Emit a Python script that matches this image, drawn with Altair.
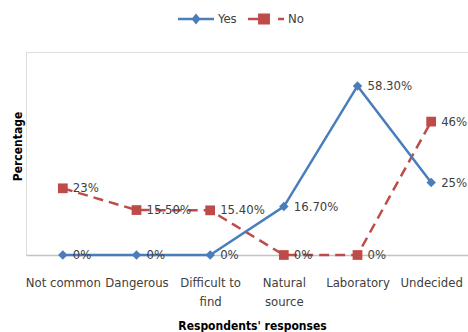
import altair as alt
import pandas as pd

# Survey responses (share of respondents, %)
categories = ["Not common", "Dangerous", "Difficult to\nfind", "Natural\nsource", "Laboratory", "Undecided"]
yes_values = [0, 0, 0, 16.7, 58.3, 25]
no_values = [23, 15.5, 15.4, 0, 0, 46]
series_names = ["Yes", "No"]
series_colors = ["#4a7ebb", "#be4b48"]

FONT = "DejaVu Sans Condensed, Liberation Sans Narrow, sans-serif"
TEXT_COLOR = "#404040"


def pct_label(v):
    return f"{v:g}%" if float(v).is_integer() else f"{v:.2f}%"


rows = []
for name, values in zip(series_names, [yes_values, no_values]):
    for i, (cat, v) in enumerate(zip(categories, values)):
        rows.append({"category": cat, "series": name, "value": v,
                     "label": pct_label(v), "idx": i})
df = pd.DataFrame(rows)

# Legend symbols: line segment with the series marker on it
legend_paths = [
    "M-1,-0.07H1V0.07H-1Z M0,-0.3L0.25,0L0,0.3L-0.25,0Z",
    "M-1,-0.07H-0.4V0.07H-1Z M-0.44,-0.3H0.22V0.3H-0.44Z M0.67,-0.07H1V0.07H0.67Z",
]

legend = alt.Legend(
    title=None, orient="none", direction="horizontal",
    legendX=152, legendY=-51, padding=0,
    symbolSize=1296, symbolStrokeWidth=0, symbolOpacity=1,
    labelFont=FONT, labelFontSize=13, labelColor=TEXT_COLOR,
    labelOffset=4, columnPadding=11,
)

x_enc = alt.X(
    "category:N", sort=categories, title="Respondents' responses",
    scale=alt.Scale(type="point", padding=0.5),
    axis=alt.Axis(
        labelExpr="split(datum.value, '\\n')", labelAngle=0,
        labelFont=FONT, labelFontSize=13, labelColor=TEXT_COLOR,
        labelPadding=21, labelLineHeight=19, labelBaseline="top",
        ticks=False, domainColor="#c4c4c4", domainWidth=1.5, grid=False,
        titleFont=FONT, titleFontSize=12, titleFontWeight="bold", titleColor="#000000",
        titleX=226, titleY=70, titleBaseline="middle", titleAlign="center",
    ),
)
y_enc = alt.Y(
    "value:Q", scale=alt.Scale(domain=[0, 70], nice=False), title="Percentage",
    axis=alt.Axis(
        labels=False, ticks=False, domain=False, grid=False,
        titleFont=FONT, titleFontSize=12, titleFontWeight="bold", titleColor="#000000",
        titleAngle=270, titleX=-9, titleY=94, titleAlign="center", titleBaseline="middle",
    ),
)
color_enc = alt.Color("series:N", scale=alt.Scale(domain=series_names, range=series_colors),
                      legend=legend)

base = alt.Chart(df).encode(x=x_enc, y=y_enc, color=color_enc, order=alt.Order("idx:Q"))

no_line = base.transform_filter(alt.datum.series == "No").mark_line(
    strokeWidth=2.5, strokeDash=[10, 6])
yes_line = base.transform_filter(alt.datum.series == "Yes").mark_line(strokeWidth=2.5)
no_pts = base.transform_filter(alt.datum.series == "No").mark_point(
    shape="square", size=95, filled=True, opacity=1)
yes_pts = base.transform_filter(alt.datum.series == "Yes").mark_point(
    shape="diamond", size=90, filled=True, opacity=1)

legend_layer = base.mark_point(filled=True, opacity=0).encode(
    shape=alt.Shape("series:N", scale=alt.Scale(domain=series_names, range=legend_paths),
                    legend=legend)
)

labels = alt.Chart(df).mark_text(
    align="left", baseline="middle", dx=10, font=FONT, fontSize=13, color=TEXT_COLOR
).encode(x=x_enc, y=y_enc, text="label:N")

chart = alt.layer(
    legend_layer, no_line, yes_line, no_pts, yes_pts, labels
).properties(
    width=442, height=203,
    autosize=alt.AutoSizeParams(type="none"),
    padding={"left": 26, "top": 52, "right": 0, "bottom": 77},
).configure_view(stroke=None).configure(background="white")

chart.save("out.html", embed_options={"renderer": "svg", "actions": False})
